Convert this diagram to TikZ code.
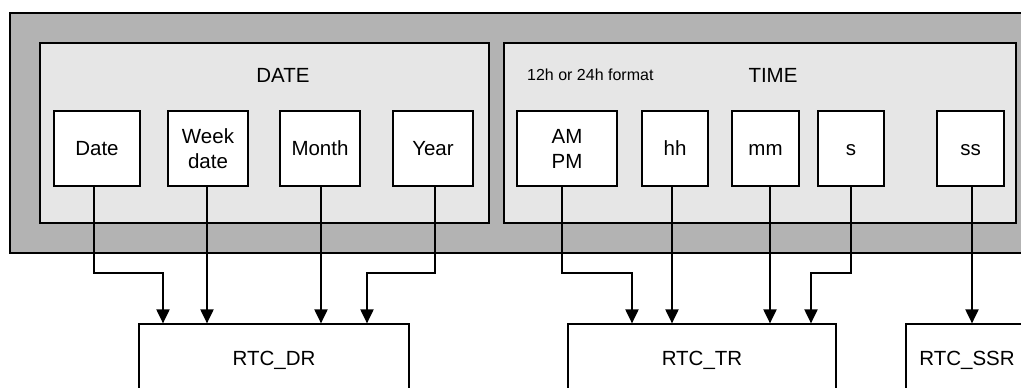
\documentclass[tikz,border=0pt]{standalone}
\usepackage{fontspec}
\setmainfont{Liberation Sans}
\usetikzlibrary{arrows.meta,calc}

\definecolor{framegray}{HTML}{B3B3B3}
\definecolor{groupgray}{HTML}{E6E6E6}

\begin{document}
\begin{tikzpicture}[x=1pt,y=-1pt,>={Triangle[width=13pt,length=14pt]},
  every node/.style={font=\fontsize{20.5}{25}\selectfont},
  group/.style={draw, fill=groupgray, line width=1.5pt, minimum width=#1, minimum height=180pt, inner sep=0pt},
  field/.style={draw, fill=white, line width=1.5pt, minimum width=#1, minimum height=75pt, align=center, inner sep=0pt},
  oneline/.style={text height=14.6pt, text depth=0pt},
  register/.style={draw, line width=1.2pt, minimum width=#1, minimum height=68pt, inner sep=0pt},
  link/.style={->, line width=2pt}]
  \useasboundingbox (0,0) rectangle (1021,388);
  \clip (0,0) rectangle (1021,388);
  \draw[fill=framegray, line width=1.5pt] (10,13) rectangle (1040,253);

  \node (dategrp) [group=449pt] at (264.5,133) {};
  \node (timegrp) [group=512pt] at (760,133)   {};
  \node (datelbl) at (283,75) {DATE};
  \node (timelbl) at (773,75) {TIME};
  \node (fmtlbl) [anchor=west, inner sep=0pt, font=\fontsize{16}{19}\selectfont] at (527,75) {12h or 24h format};

  \node (date)  [field=86pt, oneline]  at (97,148.5)    {Date};
  \node (week)  [field=80pt]           at (208,148.5)   {Week\\date};
  \node (month) [field=80pt, oneline]  at (320,148.5)   {Month};
  \node (year)  [field=80pt, oneline]  at (433,148.5)   {Year};
  \node (ampm)  [field=100pt]          at (567,148.5)   {AM\\PM};
  \node (hh)    [field=66pt, oneline]  at (675,148.5)   {hh};
  \node (mm)    [field=67pt, oneline]  at (765.5,148.5) {mm};
  \node (sec)   [field=66pt, oneline]  at (851,148.5)   {s};
  \node (ss)    [field=67pt, oneline]  at (970.5,148.5) {ss};

  \node (dr)  [register=270pt, oneline] at (274,358) {RTC\_DR};
  \node (tr)  [register=268pt, oneline] at (702,358) {RTC\_TR};
  \node (ssr) [register=122pt, oneline] at (967,358) {RTC\_SSR};

  \coordinate (dr-a)  at ([xshift=-111pt]dr.north);
  \coordinate (dr-b)  at ([xshift=-67pt]dr.north);
  \coordinate (dr-c)  at ([xshift=47pt]dr.north);
  \coordinate (dr-d)  at ([xshift=93pt]dr.north);
  \coordinate (tr-a)  at ([xshift=-70pt]tr.north);
  \coordinate (tr-b)  at ([xshift=-30pt]tr.north);
  \coordinate (tr-c)  at ([xshift=68pt]tr.north);
  \coordinate (tr-d)  at ([xshift=109pt]tr.north);
  \coordinate (ssr-a) at ([xshift=5pt]ssr.north);

  \draw[link] ([xshift=-3pt]date.south) |- ($(dr-a)+(0,-50)$) -- (dr-a);
  \draw[link] (dr-b |- week.south) -- (dr-b);
  \draw[link] (dr-c |- month.south) -- (dr-c);
  \draw[link] ([xshift=2pt]year.south) |- ($(dr-d)+(0,-50)$) -- (dr-d);
  \draw[link] ([xshift=-5pt]ampm.south) |- ($(tr-a)+(0,-50)$) -- (tr-a);
  \draw[link] (tr-b |- hh.south) -- (tr-b);
  \draw[link] (tr-c |- mm.south) -- (tr-c);
  \draw[link] (sec.south) |- ($(tr-d)+(0,-50)$) -- (tr-d);
  \draw[link] (ssr-a |- ss.south) -- (ssr-a);
\end{tikzpicture}
\end{document}
